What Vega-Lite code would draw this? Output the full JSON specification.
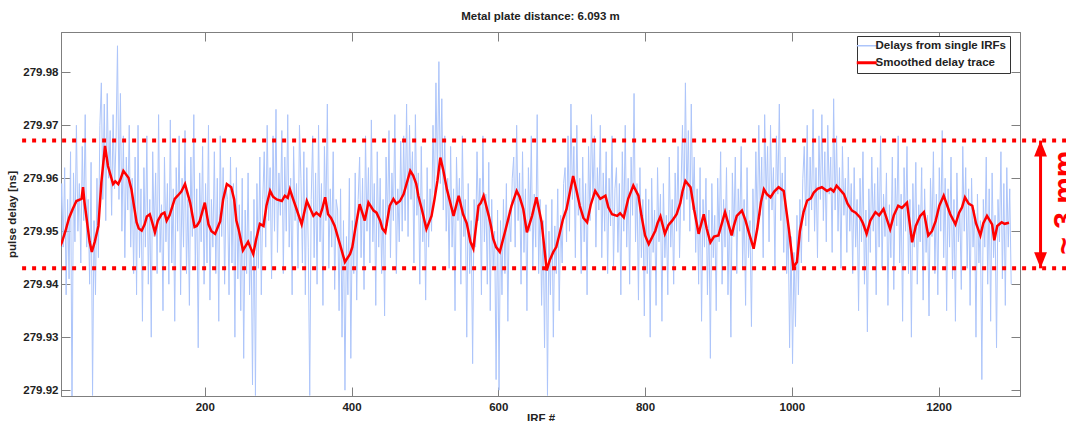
{
  "$schema": "https://vega.github.io/schema/vega-lite/v6.json",
  "width": 959,
  "height": 364,
  "autosize": "none",
  "padding": {"left": 61, "top": 32, "right": 46, "bottom": 25},
  "background": "white",
  "title": {"text": "Metal plate distance: 6.093 m", "fontSize": 11.5, "fontWeight": "bold", "font": "Liberation Sans", "color": "#222222", "offset": 9},
  "config": {
    "font": "Liberation Sans",
    "view": {"stroke": "#7f7f7f", "strokeWidth": 1},
    "axis": {"domainColor": "#7f7f7f", "tickColor": "#7f7f7f", "tickSize": -9, "labelFont": "Liberation Sans", "labelFontSize": 11.5, "labelFontWeight": "bold", "labelColor": "#222222", "titleFont": "Liberation Sans", "titleFontSize": 11.5, "titleFontWeight": "bold", "titleColor": "#222222", "grid": false}
  },
  "datasets": {
    "noise": [
      {"i":1,"v":279.9545},{"i":3,"v":279.9440},{"i":5,"v":279.9590},{"i":7,"v":279.9470},{"i":9,"v":279.9620},{"i":11,"v":279.9380},{"i":13,"v":279.9560},{"i":15,"v":279.9410},{"i":17,"v":279.9650},{"i":19,"v":279.9150},
      {"i":21,"v":279.9610},{"i":23,"v":279.9480},{"i":25,"v":279.9700},{"i":27,"v":279.9500},{"i":29,"v":279.9590},{"i":31,"v":279.9440},{"i":33,"v":279.9660},{"i":35,"v":279.9520},{"i":37,"v":279.9720},{"i":39,"v":279.9470},
      {"i":41,"v":279.9560},{"i":43,"v":279.9400},{"i":45,"v":279.9630},{"i":47,"v":279.9190},{"i":49,"v":279.9520},{"i":51,"v":279.9380},{"i":53,"v":279.9600},{"i":55,"v":279.9450},
      {"i":57,"v":279.9700},{"i":59,"v":279.9780},{"i":61,"v":279.9560},{"i":63,"v":279.9740},{"i":65,"v":279.9520},{"i":67,"v":279.9760},{"i":69,"v":279.9600},{"i":71,"v":279.9690},{"i":73,"v":279.9530},{"i":75,"v":279.9720},
      {"i":77,"v":279.9580},{"i":79,"v":279.9670},{"i":81,"v":279.9850},{"i":83,"v":279.9560},{"i":85,"v":279.9760},{"i":87,"v":279.9500},{"i":89,"v":279.9680},{"i":91,"v":279.9450},{"i":93,"v":279.9640},{"i":95,"v":279.9540},
      {"i":97,"v":279.9700},{"i":99,"v":279.9470},
      {"i":101,"v":279.9600},{"i":103,"v":279.9420},{"i":105,"v":279.9640},{"i":107,"v":279.9380},{"i":109,"v":279.9700},{"i":111,"v":279.9450},{"i":113,"v":279.9580},{"i":115,"v":279.9330},{"i":117,"v":279.9620},{"i":119,"v":279.9470},
      {"i":121,"v":279.9680},{"i":123,"v":279.9400},{"i":125,"v":279.9560},{"i":127,"v":279.9300},{"i":129,"v":279.9650},{"i":131,"v":279.9490},{"i":133,"v":279.9610},{"i":135,"v":279.9420},{"i":137,"v":279.9720},{"i":139,"v":279.9460},
      {"i":141,"v":279.9550},{"i":143,"v":279.9350},{"i":145,"v":279.9640},{"i":147,"v":279.9480},{"i":149,"v":279.9590},{"i":151,"v":279.9400},{"i":153,"v":279.9710},{"i":155,"v":279.9440},{"i":157,"v":279.9580},{"i":159,"v":279.9330},
      {"i":161,"v":279.9620},{"i":163,"v":279.9500},{"i":165,"v":279.9680},{"i":167,"v":279.9380},{"i":169,"v":279.9600},{"i":171,"v":279.9470},{"i":173,"v":279.9690},{"i":175,"v":279.9420},{"i":177,"v":279.9560},{"i":179,"v":279.9360},
      {"i":181,"v":279.9640},{"i":183,"v":279.9490},{"i":185,"v":279.9720},{"i":187,"v":279.9430},{"i":189,"v":279.9580},{"i":191,"v":279.9280},{"i":193,"v":279.9610},{"i":195,"v":279.9480},{"i":197,"v":279.9660},{"i":199,"v":279.9400},
      {"i":201,"v":279.9590},{"i":203,"v":279.9440},{"i":205,"v":279.9700},{"i":207,"v":279.9370},{"i":209,"v":279.9560},{"i":211,"v":279.9470},{"i":213,"v":279.9650},{"i":215,"v":279.9420},{"i":217,"v":279.9600},{"i":219,"v":279.9330},
      {"i":221,"v":279.9680},{"i":223,"v":279.9490},{"i":225,"v":279.9620},{"i":227,"v":279.9400},{"i":229,"v":279.9580},
      {"i":231,"v":279.9560},{"i":233,"v":279.9380},{"i":235,"v":279.9640},{"i":237,"v":279.9440},{"i":239,"v":279.9590},{"i":241,"v":279.9300},{"i":243,"v":279.9620},{"i":245,"v":279.9410},{"i":247,"v":279.9550},{"i":249,"v":279.9350},
      {"i":251,"v":279.9600},{"i":253,"v":279.9260},{"i":255,"v":279.9540},{"i":257,"v":279.9420},{"i":259,"v":279.9610},{"i":261,"v":279.9380},{"i":263,"v":279.9500},{"i":265,"v":279.9210},{"i":267,"v":279.9560},{"i":269,"v":279.9190},
      {"i":271,"v":279.9590},{"i":273,"v":279.9430},{"i":275,"v":279.9640},{"i":277,"v":279.9380},{"i":279,"v":279.9560},
      {"i":281,"v":279.9650},{"i":283,"v":279.9470},{"i":285,"v":279.9700},{"i":287,"v":279.9520},{"i":289,"v":279.9620},{"i":291,"v":279.9410},{"i":293,"v":279.9680},{"i":295,"v":279.9500},{"i":297,"v":279.9730},{"i":299,"v":279.9460},
      {"i":301,"v":279.9610},{"i":303,"v":279.9530},{"i":305,"v":279.9690},{"i":307,"v":279.9420},{"i":309,"v":279.9640},{"i":311,"v":279.9500},{"i":313,"v":279.9720},{"i":315,"v":279.9470},{"i":317,"v":279.9600},{"i":319,"v":279.9380},
      {"i":321,"v":279.9660},{"i":323,"v":279.9520},{"i":325,"v":279.9590},{"i":327,"v":279.9430},{"i":329,"v":279.9700},
      {"i":331,"v":279.9600},{"i":333,"v":279.9440},{"i":335,"v":279.9650},{"i":337,"v":279.9380},{"i":339,"v":279.9620},{"i":341,"v":279.9470},{"i":343,"v":279.9190},{"i":345,"v":279.9560},{"i":347,"v":279.9680},{"i":349,"v":279.9450},
      {"i":351,"v":279.9610},{"i":353,"v":279.9400},{"i":355,"v":279.9700},{"i":357,"v":279.9480},{"i":359,"v":279.9590},{"i":361,"v":279.9360},{"i":363,"v":279.9660},{"i":365,"v":279.9520},{"i":367,"v":279.9740},{"i":369,"v":279.9430},
      {"i":371,"v":279.9580},{"i":373,"v":279.9470},{"i":375,"v":279.9650},{"i":377,"v":279.9390},{"i":379,"v":279.9560},
      {"i":381,"v":279.9540},{"i":383,"v":279.9350},{"i":385,"v":279.9580},{"i":387,"v":279.9300},{"i":389,"v":279.9520},{"i":391,"v":279.9200},{"i":393,"v":279.9490},{"i":395,"v":279.9380},{"i":397,"v":279.9600},{"i":399,"v":279.9260},
      {"i":401,"v":279.9520},{"i":403,"v":279.9420},{"i":405,"v":279.9610},{"i":407,"v":279.9370},{"i":409,"v":279.9560},
      {"i":411,"v":279.9640},{"i":413,"v":279.9450},{"i":415,"v":279.9600},{"i":417,"v":279.9390},{"i":419,"v":279.9680},{"i":421,"v":279.9500},{"i":423,"v":279.9620},{"i":425,"v":279.9440},{"i":427,"v":279.9710},{"i":429,"v":279.9480},
      {"i":431,"v":279.9590},{"i":433,"v":279.9360},{"i":435,"v":279.9650},{"i":437,"v":279.9470},{"i":439,"v":279.9600},{"i":441,"v":279.9420},{"i":443,"v":279.9560},{"i":445,"v":279.9340},{"i":447,"v":279.9640},{"i":449,"v":279.9510},
      {"i":451,"v":279.9690},{"i":453,"v":279.9450},{"i":455,"v":279.9610},{"i":457,"v":279.9520},{"i":459,"v":279.9720},{"i":461,"v":279.9420},{"i":463,"v":279.9580},{"i":465,"v":279.9480},{"i":467,"v":279.9670},{"i":469,"v":279.9500},
      {"i":471,"v":279.9680},{"i":473,"v":279.9520},{"i":475,"v":279.9740},{"i":477,"v":279.9490},{"i":479,"v":279.9700},{"i":481,"v":279.9560},{"i":483,"v":279.9650},{"i":485,"v":279.9440},{"i":487,"v":279.9720},{"i":489,"v":279.9530},
      {"i":491,"v":279.9610},{"i":493,"v":279.9400},{"i":495,"v":279.9660},{"i":497,"v":279.9480},{"i":499,"v":279.9560},{"i":501,"v":279.9370},{"i":503,"v":279.9620},{"i":505,"v":279.9470},{"i":507,"v":279.9580},{"i":509,"v":279.9500},
      {"i":511,"v":279.9700},{"i":513,"v":279.9560},{"i":515,"v":279.9780},{"i":517,"v":279.9600},{"i":519,"v":279.9820},{"i":521,"v":279.9590},{"i":523,"v":279.9750},{"i":525,"v":279.9540},{"i":527,"v":279.9680},{"i":529,"v":279.9500},
      {"i":531,"v":279.9600},{"i":533,"v":279.9430},{"i":535,"v":279.9660},{"i":537,"v":279.9470},{"i":539,"v":279.9580},{"i":541,"v":279.9350},{"i":543,"v":279.9640},{"i":545,"v":279.9520},{"i":547,"v":279.9600},{"i":549,"v":279.9400},
      {"i":551,"v":279.9680},{"i":553,"v":279.9490},{"i":555,"v":279.9560},{"i":557,"v":279.9300},{"i":559,"v":279.9590},{"i":561,"v":279.9420},{"i":563,"v":279.9520},{"i":565,"v":279.9250},{"i":567,"v":279.9560},{"i":569,"v":279.9470},
      {"i":571,"v":279.9650},{"i":573,"v":279.9520},{"i":575,"v":279.9600},{"i":577,"v":279.9380},{"i":579,"v":279.9680},{"i":581,"v":279.9480},{"i":583,"v":279.9570},{"i":585,"v":279.9400},{"i":587,"v":279.9630},{"i":589,"v":279.9350},
      {"i":591,"v":279.9560},{"i":593,"v":279.9430},{"i":595,"v":279.9500},{"i":597,"v":279.9220},{"i":599,"v":279.9540},
      {"i":601,"v":279.9200},{"i":603,"v":279.9520},{"i":605,"v":279.9380},{"i":607,"v":279.9560},{"i":609,"v":279.9420},{"i":611,"v":279.9590},{"i":613,"v":279.9330},{"i":615,"v":279.9540},{"i":617,"v":279.9480},{"i":619,"v":279.9600},
      {"i":621,"v":279.9640},{"i":623,"v":279.9470},{"i":625,"v":279.9700},{"i":627,"v":279.9520},{"i":629,"v":279.9610},{"i":631,"v":279.9400},{"i":633,"v":279.9650},{"i":635,"v":279.9460},{"i":637,"v":279.9580},{"i":639,"v":279.9350},
      {"i":641,"v":279.9620},{"i":643,"v":279.9500},{"i":645,"v":279.9680},{"i":647,"v":279.9430},{"i":649,"v":279.9570},{"i":651,"v":279.9470},{"i":653,"v":279.9720},{"i":655,"v":279.9420},{"i":657,"v":279.9560},{"i":659,"v":279.9360},
      {"i":661,"v":279.9520},{"i":663,"v":279.9280},{"i":665,"v":279.9550},{"i":667,"v":279.9190},{"i":669,"v":279.9500},{"i":671,"v":279.9380},{"i":673,"v":279.9560},{"i":675,"v":279.9300},{"i":677,"v":279.9510},{"i":679,"v":279.9420},
      {"i":681,"v":279.9580},{"i":683,"v":279.9350},{"i":685,"v":279.9530},{"i":687,"v":279.9440},{"i":689,"v":279.9590},
      {"i":691,"v":279.9620},{"i":693,"v":279.9480},{"i":695,"v":279.9680},{"i":697,"v":279.9500},{"i":699,"v":279.9740},{"i":701,"v":279.9560},{"i":703,"v":279.9660},{"i":705,"v":279.9450},{"i":707,"v":279.9700},{"i":709,"v":279.9530},
      {"i":711,"v":279.9600},{"i":713,"v":279.9420},{"i":715,"v":279.9640},{"i":717,"v":279.9480},{"i":719,"v":279.9590},{"i":721,"v":279.9380},{"i":723,"v":279.9660},{"i":725,"v":279.9520},{"i":727,"v":279.9720},{"i":729,"v":279.9560},
      {"i":731,"v":279.9680},{"i":733,"v":279.9470},{"i":735,"v":279.9620},{"i":737,"v":279.9540},{"i":739,"v":279.9700},{"i":741,"v":279.9450},{"i":743,"v":279.9610},{"i":745,"v":279.9500},{"i":747,"v":279.9650},{"i":749,"v":279.9420},
      {"i":751,"v":279.9600},{"i":753,"v":279.9510},{"i":755,"v":279.9680},{"i":757,"v":279.9430},{"i":759,"v":279.9580},
      {"i":761,"v":279.9620},{"i":763,"v":279.9460},{"i":765,"v":279.9590},{"i":767,"v":279.9380},{"i":769,"v":279.9650},{"i":771,"v":279.9500},{"i":773,"v":279.9700},{"i":775,"v":279.9470},{"i":777,"v":279.9600},{"i":779,"v":279.9400},
      {"i":781,"v":279.9640},{"i":783,"v":279.9530},{"i":785,"v":279.9760},{"i":787,"v":279.9480},{"i":789,"v":279.9590},{"i":791,"v":279.9370},{"i":793,"v":279.9620},{"i":795,"v":279.9450},{"i":797,"v":279.9560},{"i":799,"v":279.9340},
      {"i":801,"v":279.9580},{"i":803,"v":279.9420},{"i":805,"v":279.9560},{"i":807,"v":279.9300},{"i":809,"v":279.9600},{"i":811,"v":279.9460},{"i":813,"v":279.9540},{"i":815,"v":279.9360},{"i":817,"v":279.9620},{"i":819,"v":279.9480},
      {"i":821,"v":279.9570},{"i":823,"v":279.9330},{"i":825,"v":279.9590},{"i":827,"v":279.9450},{"i":829,"v":279.9530},{"i":831,"v":279.9380},{"i":833,"v":279.9640},{"i":835,"v":279.9470},{"i":837,"v":279.9560},{"i":839,"v":279.9400},
      {"i":841,"v":279.9610},{"i":843,"v":279.9500},{"i":845,"v":279.9660},{"i":847,"v":279.9450},{"i":849,"v":279.9580},
      {"i":851,"v":279.9700},{"i":853,"v":279.9520},{"i":855,"v":279.9780},{"i":857,"v":279.9560},{"i":859,"v":279.9690},{"i":861,"v":279.9500},{"i":863,"v":279.9740},{"i":865,"v":279.9540},{"i":867,"v":279.9640},{"i":869,"v":279.9460},
      {"i":871,"v":279.9580},{"i":873,"v":279.9400},{"i":875,"v":279.9620},{"i":877,"v":279.9330},{"i":879,"v":279.9560},{"i":881,"v":279.9470},{"i":883,"v":279.9600},{"i":885,"v":279.9380},{"i":887,"v":279.9540},{"i":889,"v":279.9260},
      {"i":891,"v":279.9590},{"i":893,"v":279.9450},{"i":895,"v":279.9530},{"i":897,"v":279.9350},{"i":899,"v":279.9600},{"i":901,"v":279.9480},{"i":903,"v":279.9650},{"i":905,"v":279.9400},{"i":907,"v":279.9560},{"i":909,"v":279.9470},
      {"i":911,"v":279.9620},{"i":913,"v":279.9380},{"i":915,"v":279.9540},{"i":917,"v":279.9300},{"i":919,"v":279.9610},{"i":921,"v":279.9490},{"i":923,"v":279.9640},{"i":925,"v":279.9420},{"i":927,"v":279.9580},{"i":929,"v":279.9500},
      {"i":931,"v":279.9660},{"i":933,"v":279.9430},{"i":935,"v":279.9560},{"i":937,"v":279.9360},{"i":939,"v":279.9620},{"i":941,"v":279.9450},{"i":943,"v":279.9520},{"i":945,"v":279.9320},{"i":947,"v":279.9580},{"i":949,"v":279.9470},
      {"i":951,"v":279.9650},{"i":953,"v":279.9500},{"i":955,"v":279.9700},{"i":957,"v":279.9530},{"i":959,"v":279.9640},{"i":961,"v":279.9450},{"i":963,"v":279.9720},{"i":965,"v":279.9560},{"i":967,"v":279.9660},{"i":969,"v":279.9480},
      {"i":971,"v":279.9700},{"i":973,"v":279.9540},{"i":975,"v":279.9620},{"i":977,"v":279.9430},{"i":979,"v":279.9680},{"i":981,"v":279.9570},{"i":983,"v":279.9740},{"i":985,"v":279.9520},{"i":987,"v":279.9610},{"i":989,"v":279.9460},
      {"i":991,"v":279.9640},{"i":993,"v":279.9420},
      {"i":995,"v":279.9520},{"i":997,"v":279.9280},{"i":999,"v":279.9490},{"i":1001,"v":279.9250},{"i":1003,"v":279.9460},{"i":1005,"v":279.9320},{"i":1007,"v":279.9530},{"i":1009,"v":279.9380},{"i":1011,"v":279.9560},{"i":1013,"v":279.9440},
      {"i":1015,"v":279.9600},{"i":1017,"v":279.9660},{"i":1019,"v":279.9510},{"i":1021,"v":279.9700},{"i":1023,"v":279.9480},{"i":1025,"v":279.9640},{"i":1027,"v":279.9540},{"i":1029,"v":279.9730},{"i":1031,"v":279.9500},{"i":1033,"v":279.9620},
      {"i":1035,"v":279.9450},{"i":1037,"v":279.9680},{"i":1039,"v":279.9560},{"i":1041,"v":279.9720},{"i":1043,"v":279.9520},{"i":1045,"v":279.9650},{"i":1047,"v":279.9480},{"i":1049,"v":279.9700},{"i":1051,"v":279.9570},{"i":1053,"v":279.9640},
      {"i":1055,"v":279.9460},{"i":1057,"v":279.9750},{"i":1059,"v":279.9540},{"i":1061,"v":279.9680},{"i":1063,"v":279.9500},{"i":1065,"v":279.9620},{"i":1067,"v":279.9430},{"i":1069,"v":279.9660},{"i":1071,"v":279.9530},{"i":1073,"v":279.9600},
      {"i":1075,"v":279.9460},{"i":1077,"v":279.9640},{"i":1079,"v":279.9500},
      {"i":1081,"v":279.9590},{"i":1083,"v":279.9420},{"i":1085,"v":279.9620},{"i":1087,"v":279.9470},{"i":1089,"v":279.9560},{"i":1091,"v":279.9350},{"i":1093,"v":279.9600},{"i":1095,"v":279.9480},{"i":1097,"v":279.9650},{"i":1099,"v":279.9400},
      {"i":1101,"v":279.9540},{"i":1103,"v":279.9310},{"i":1105,"v":279.9580},{"i":1107,"v":279.9460},{"i":1109,"v":279.9640},{"i":1111,"v":279.9500},{"i":1113,"v":279.9590},{"i":1115,"v":279.9380},{"i":1117,"v":279.9620},{"i":1119,"v":279.9470},
      {"i":1121,"v":279.9680},{"i":1123,"v":279.9430},{"i":1125,"v":279.9570},{"i":1127,"v":279.9490},{"i":1129,"v":279.9610},{"i":1131,"v":279.9360},{"i":1133,"v":279.9550},{"i":1135,"v":279.9450},{"i":1137,"v":279.9640},{"i":1139,"v":279.9390},
      {"i":1141,"v":279.9600},{"i":1143,"v":279.9510},{"i":1145,"v":279.9680},{"i":1147,"v":279.9440},{"i":1149,"v":279.9570},{"i":1151,"v":279.9330},{"i":1153,"v":279.9620},{"i":1155,"v":279.9500},{"i":1157,"v":279.9660},{"i":1159,"v":279.9420},
      {"i":1161,"v":279.9560},{"i":1163,"v":279.9300},{"i":1165,"v":279.9590},{"i":1167,"v":279.9470},{"i":1169,"v":279.9630},{"i":1171,"v":279.9400},{"i":1173,"v":279.9550},{"i":1175,"v":279.9480},{"i":1177,"v":279.9620},{"i":1179,"v":279.9370},
      {"i":1181,"v":279.9580},{"i":1183,"v":279.9460},{"i":1185,"v":279.9530},{"i":1187,"v":279.9340},{"i":1189,"v":279.9600},{"i":1191,"v":279.9490},{"i":1193,"v":279.9650},{"i":1195,"v":279.9420},{"i":1197,"v":279.9570},{"i":1199,"v":279.9380},
      {"i":1201,"v":279.9620},{"i":1203,"v":279.9500},{"i":1205,"v":279.9690},{"i":1207,"v":279.9450},{"i":1209,"v":279.9600},{"i":1211,"v":279.9350},{"i":1213,"v":279.9580},{"i":1215,"v":279.9470},{"i":1217,"v":279.9640},{"i":1219,"v":279.9410},
      {"i":1221,"v":279.9560},{"i":1223,"v":279.9330},{"i":1225,"v":279.9610},{"i":1227,"v":279.9480},{"i":1229,"v":279.9540},{"i":1231,"v":279.9390},{"i":1233,"v":279.9660},{"i":1235,"v":279.9500},{"i":1237,"v":279.9620},{"i":1239,"v":279.9430},
      {"i":1241,"v":279.9580},{"i":1243,"v":279.9360},{"i":1245,"v":279.9600},{"i":1247,"v":279.9470},{"i":1249,"v":279.9540},{"i":1251,"v":279.9300},{"i":1253,"v":279.9570},{"i":1255,"v":279.9440},{"i":1257,"v":279.9520},{"i":1259,"v":279.9220},
      {"i":1261,"v":279.9560},{"i":1263,"v":279.9470},{"i":1265,"v":279.9640},{"i":1267,"v":279.9400},{"i":1269,"v":279.9580},{"i":1271,"v":279.9330},{"i":1273,"v":279.9610},{"i":1275,"v":279.9450},{"i":1277,"v":279.9530},{"i":1279,"v":279.9280},
      {"i":1281,"v":279.9560},{"i":1283,"v":279.9480},{"i":1285,"v":279.9650},{"i":1287,"v":279.9410},{"i":1289,"v":279.9590},{"i":1291,"v":279.9360},{"i":1293,"v":279.9620},{"i":1295,"v":279.9470},{"i":1297,"v":279.9580},{"i":1299,"v":279.9400}
    ],
    "smooth": [
      {"i":1,"v":279.9467},{"i":10,"v":279.9500},{"i":20,"v":279.9542},{"i":25,"v":279.9557},{"i":32,"v":279.9561},{"i":34,"v":279.9583},{"i":36,"v":279.9555},{"i":43,"v":279.9480},{"i":46,"v":279.9461},{"i":50,"v":279.9480},
      {"i":55,"v":279.9510},{"i":59,"v":279.9592},{"i":64,"v":279.9661},{"i":68,"v":279.9623},{"i":75,"v":279.9589},{"i":82,"v":279.9589},{"i":89,"v":279.9614},{"i":96,"v":279.9601},{"i":100,"v":279.9579},{"i":107,"v":279.9517},
      {"i":114,"v":279.9501},{"i":118,"v":279.9513},{"i":125,"v":279.9532},{"i":132,"v":279.9498},{"i":141,"v":279.9532},{"i":148,"v":279.9520},{"i":159,"v":279.9561},{"i":173,"v":279.9589},{"i":180,"v":279.9554},{"i":186,"v":279.9508},
      {"i":193,"v":279.9519},{"i":200,"v":279.9554},{"i":205,"v":279.9513},{"i":214,"v":279.9495},{"i":221,"v":279.9519},{"i":230,"v":279.9589},{"i":236,"v":279.9583},{"i":246,"v":279.9504},{"i":252,"v":279.9464},{"i":259,"v":279.9480},
      {"i":266,"v":279.9457},{"i":275,"v":279.9514},{"i":280,"v":279.9510},{"i":289,"v":279.9576},{"i":298,"v":279.9560},{"i":305,"v":279.9557},{"i":316,"v":279.9579},{"i":325,"v":279.9542},{"i":332,"v":279.9513},{"i":339,"v":279.9557},
      {"i":348,"v":279.9529},{"i":357,"v":279.9529},{"i":364,"v":279.9564},{"i":368,"v":279.9532},{"i":377,"v":279.9510},{"i":384,"v":279.9476},{"i":391,"v":279.9442},{"i":398,"v":279.9457},{"i":405,"v":279.9504},{"i":411,"v":279.9551},
      {"i":418,"v":279.9520},{"i":423,"v":279.9554},{"i":430,"v":279.9539},{"i":439,"v":279.9520},{"i":446,"v":279.9498},{"i":452,"v":279.9548},{"i":457,"v":279.9561},{"i":466,"v":279.9557},{"i":471,"v":279.9570},{"i":480,"v":279.9614},
      {"i":484,"v":279.9605},{"i":491,"v":279.9567},{"i":502,"v":279.9504},{"i":509,"v":279.9529},{"i":521,"v":279.9639},{"i":530,"v":279.9579},{"i":539,"v":279.9529},{"i":546,"v":279.9567},{"i":552,"v":279.9532},{"i":566,"v":279.9467},
      {"i":573,"v":279.9548},{"i":580,"v":279.9567},{"i":587,"v":279.9529},{"i":593,"v":279.9486},{"i":602,"v":279.9461},{"i":609,"v":279.9498},{"i":618,"v":279.9548},{"i":625,"v":279.9576},{"i":634,"v":279.9542},{"i":639,"v":279.9498},
      {"i":646,"v":279.9529},{"i":652,"v":279.9564},{"i":659,"v":279.9517},{"i":666,"v":279.9426},{"i":675,"v":279.9461},{"i":684,"v":279.9498},{"i":693,"v":279.9542},{"i":702,"v":279.9604},{"i":711,"v":279.9548},{"i":721,"v":279.9517},
      {"i":732,"v":279.9576},{"i":739,"v":279.9561},{"i":746,"v":279.9567},{"i":755,"v":279.9532},{"i":762,"v":279.9529},{"i":771,"v":279.9526},{"i":777,"v":279.9561},{"i":784,"v":279.9586},{"i":791,"v":279.9567},{"i":800,"v":279.9492},
      {"i":805,"v":279.9476},{"i":814,"v":279.9501},{"i":821,"v":279.9528},{"i":827,"v":279.9495},{"i":837,"v":279.9520},{"i":843,"v":279.9532},{"i":855,"v":279.9595},{"i":862,"v":279.9583},{"i":873,"v":279.9495},{"i":880,"v":279.9532},
      {"i":889,"v":279.9479},{"i":900,"v":279.9492},{"i":909,"v":279.9536},{"i":918,"v":279.9492},{"i":925,"v":279.9529},{"i":932,"v":279.9539},{"i":948,"v":279.9467},{"i":962,"v":279.9579},{"i":971,"v":279.9564},{"i":982,"v":279.9583},
      {"i":989,"v":279.9576},{"i":996,"v":279.9504},{"i":1002,"v":279.9432},{"i":1007,"v":279.9442},{"i":1016,"v":279.9536},{"i":1030,"v":279.9573},{"i":1041,"v":279.9583},{"i":1048,"v":279.9576},{"i":1061,"v":279.9586},{"i":1071,"v":279.9570},
      {"i":1082,"v":279.9539},{"i":1093,"v":279.9526},{"i":1102,"v":279.9495},{"i":1114,"v":279.9536},{"i":1125,"v":279.9542},{"i":1134,"v":279.9504},{"i":1145,"v":279.9548},{"i":1157,"v":279.9554},{"i":1164,"v":279.9479},{"i":1175,"v":279.9529},
      {"i":1180,"v":279.9536},{"i":1186,"v":279.9492},{"i":1196,"v":279.9519},{"i":1207,"v":279.9567},{"i":1216,"v":279.9532},{"i":1223,"v":279.9513},{"i":1236,"v":279.9564},{"i":1246,"v":279.9548},{"i":1257,"v":279.9492},{"i":1266,"v":279.9529},
      {"i":1273,"v":279.9513},{"i":1276,"v":279.9483},{"i":1280,"v":279.9510},{"i":1286,"v":279.9517},{"i":1296,"v":279.9516},
      {"i":5,"v":279.9478},{"i":15,"v":279.9525},{"i":78,"v":279.9594},{"i":85,"v":279.9598},{"i":103,"v":279.9552},{"i":110,"v":279.9505},{"i":121,"v":279.9528},{"i":128,"v":279.9518},{"i":136,"v":279.9520},{"i":145,"v":279.9535},
      {"i":152,"v":279.9530},{"i":156,"v":279.9548},{"i":163,"v":279.9567},{"i":168,"v":279.9575},{"i":189,"v":279.9510},{"i":209,"v":279.9500},{"i":217,"v":279.9505},{"i":225,"v":279.9560},{"i":240,"v":279.9560},{"i":243,"v":279.9520},
      {"i":262,"v":279.9470},{"i":270,"v":279.9485},{"i":284,"v":279.9548},{"i":293,"v":279.9565},{"i":309,"v":279.9567},{"i":313,"v":279.9563},{"i":320,"v":279.9562},{"i":352,"v":279.9535},{"i":360,"v":279.9542},{"i":372,"v":279.9525},
      {"i":401,"v":279.9470},{"i":434,"v":279.9535},{"i":442,"v":279.9505},{"i":461,"v":279.9552},{"i":488,"v":279.9590},{"i":496,"v":279.9540},{"i":513,"v":279.9560},{"i":517,"v":279.9595},{"i":525,"v":279.9615},{"i":557,"v":279.9515},
      {"i":562,"v":279.9480},{"i":576,"v":279.9553},{"i":590,"v":279.9510},{"i":597,"v":279.9470},{"i":613,"v":279.9520},{"i":629,"v":279.9565},{"i":670,"v":279.9445},{"i":679,"v":279.9470},{"i":688,"v":279.9522},{"i":706,"v":279.9580},
      {"i":716,"v":279.9525},{"i":726,"v":279.9550},{"i":750,"v":279.9545},{"i":766,"v":279.9534},{"i":795,"v":279.9530},{"i":817,"v":279.9515},{"i":832,"v":279.9512},{"i":848,"v":279.9553},{"i":851,"v":279.9575},{"i":867,"v":279.9540},
      {"i":884,"v":279.9505},{"i":894,"v":279.9490},{"i":921,"v":279.9510},{"i":937,"v":279.9520},{"i":942,"v":279.9495},{"i":953,"v":279.9505},{"i":958,"v":279.9555},{"i":966,"v":279.9570},{"i":976,"v":279.9575},{"i":1011,"v":279.9500},
      {"i":1021,"v":279.9558},{"i":1026,"v":279.9562},{"i":1035,"v":279.9580},{"i":1053,"v":279.9580},{"i":1057,"v":279.9575},{"i":1066,"v":279.9578},{"i":1076,"v":279.9552},{"i":1087,"v":279.9535},{"i":1097,"v":279.9515},{"i":1107,"v":279.9520},
      {"i":1119,"v":279.9530},{"i":1139,"v":279.9530},{"i":1150,"v":279.9544},{"i":1169,"v":279.9510},{"i":1191,"v":279.9500},{"i":1201,"v":279.9548},{"i":1228,"v":279.9535},{"i":1232,"v":279.9545},{"i":1241,"v":279.9552},{"i":1251,"v":279.9515},
      {"i":1261,"v":279.9515},{"i":1290,"v":279.9514}
    ],
    "bounds": [
      {"v":279.9671,"a":-49,"b":1400},
      {"v":279.9430,"a":-49,"b":1400}
    ],
    "arrow": [
      {"i":1339,"v1":279.9430,"v2":279.9671}
    ],
    "heads": [
      {"i":1339,"v":279.9671,"dir":"up"},
      {"i":1339,"v":279.9430,"dir":"down"}
    ],
    "note": [
      {"i":1352,"v":279.9554,"t":"~ 3 mm"}
    ]
  },
  "layer": [
    {
      "data": {"name": "noise"},
      "mark": {"type": "line", "strokeWidth": 1, "clip": true},
      "encoding": {
        "x": {"field": "i", "type": "quantitative", "scale": {"domain": [4, 1311], "nice": false, "zero": false},
              "axis": {"orient": "bottom", "values": [200, 400, 600, 800, 1000, 1200], "format": "d", "title": "IRF #", "labelPadding": 14, "titlePadding": 0}},
        "y": {"field": "v", "type": "quantitative", "scale": {"domain": [279.9189, 279.9876], "nice": false, "zero": false},
              "axis": {"orient": "left", "values": [279.92, 279.93, 279.94, 279.95, 279.96, 279.97, 279.98], "format": ".2f", "title": "pulse delay [ns]", "labelPadding": 12, "titlePadding": 5}},
        "color": {"datum": "Delays from single IRFs", "type": "nominal",
                  "scale": {"domain": ["Delays from single IRFs", "Smoothed delay trace"], "range": ["#adc5fa", "#ff0000"]},
                  "legend": {"orient": "none", "legendX": 796, "legendY": 4, "title": null, "padding": 4, "strokeColor": "#333333", "fillColor": "white",
                             "symbolType": "stroke", "symbolSize": 400, "labelFontSize": 11.5, "labelFontWeight": "bold", "labelFont": "Liberation Sans", "labelColor": "#222222",
                             "labelOffset": 3, "rowPadding": 4,
                             "encode": {"symbols": {"update": {"strokeWidth": {"signal": "datum.value === 'Smoothed delay trace' ? 3 : 1.5"}}}}}}
      }
    },
    {
      "data": {"name": "smooth"},
      "mark": {"type": "line", "strokeWidth": 2.5, "clip": true},
      "encoding": {
        "x": {"field": "i", "type": "quantitative", "axis": {"orient": "top", "values": [200, 400, 600, 800, 1000, 1200], "labels": false, "title": null}},
        "y": {"field": "v", "type": "quantitative", "axis": {"orient": "right", "values": [279.92, 279.93, 279.94, 279.95, 279.96, 279.97, 279.98], "labels": false, "title": null}},
        "color": {"datum": "Smoothed delay trace", "type": "nominal"}
      }
    },
    {
      "data": {"name": "bounds"},
      "mark": {"type": "rule", "color": "#ff0000", "strokeWidth": 4, "strokeDash": [4, 6], "clip": false},
      "encoding": {
        "x": {"field": "a", "type": "quantitative", "axis": null},
        "x2": {"field": "b"},
        "y": {"field": "v", "type": "quantitative", "axis": null}
      }
    },
    {
      "data": {"name": "arrow"},
      "mark": {"type": "rule", "color": "#ff0000", "strokeWidth": 3, "clip": false},
      "encoding": {
        "x": {"field": "i", "type": "quantitative", "axis": null},
        "y": {"field": "v1", "type": "quantitative", "axis": null},
        "y2": {"field": "v2"}
      }
    },
    {
      "data": {"name": "heads"},
      "mark": {"type": "point", "filled": true, "color": "#ff0000", "opacity": 1, "size": 256, "clip": false},
      "encoding": {
        "x": {"field": "i", "type": "quantitative", "axis": null},
        "y": {"field": "v", "type": "quantitative", "axis": null},
        "shape": {"field": "dir", "type": "nominal", "scale": {"domain": ["up", "down"], "range": ["M0,0L-0.8,2L0.8,2Z", "M0,0L-0.8,-2L0.8,-2Z"]}, "legend": null}
      }
    },
    {
      "data": {"name": "note"},
      "mark": {"type": "text", "angle": 270, "fontSize": 30, "fontWeight": "bold", "font": "Liberation Sans", "color": "#ff0000", "align": "center", "baseline": "top", "clip": false},
      "encoding": {
        "x": {"field": "i", "type": "quantitative", "axis": null},
        "y": {"field": "v", "type": "quantitative", "axis": null},
        "text": {"field": "t"}
      }
    }
  ],
  "resolve": {"axis": {"x": "independent", "y": "independent"}}
}
